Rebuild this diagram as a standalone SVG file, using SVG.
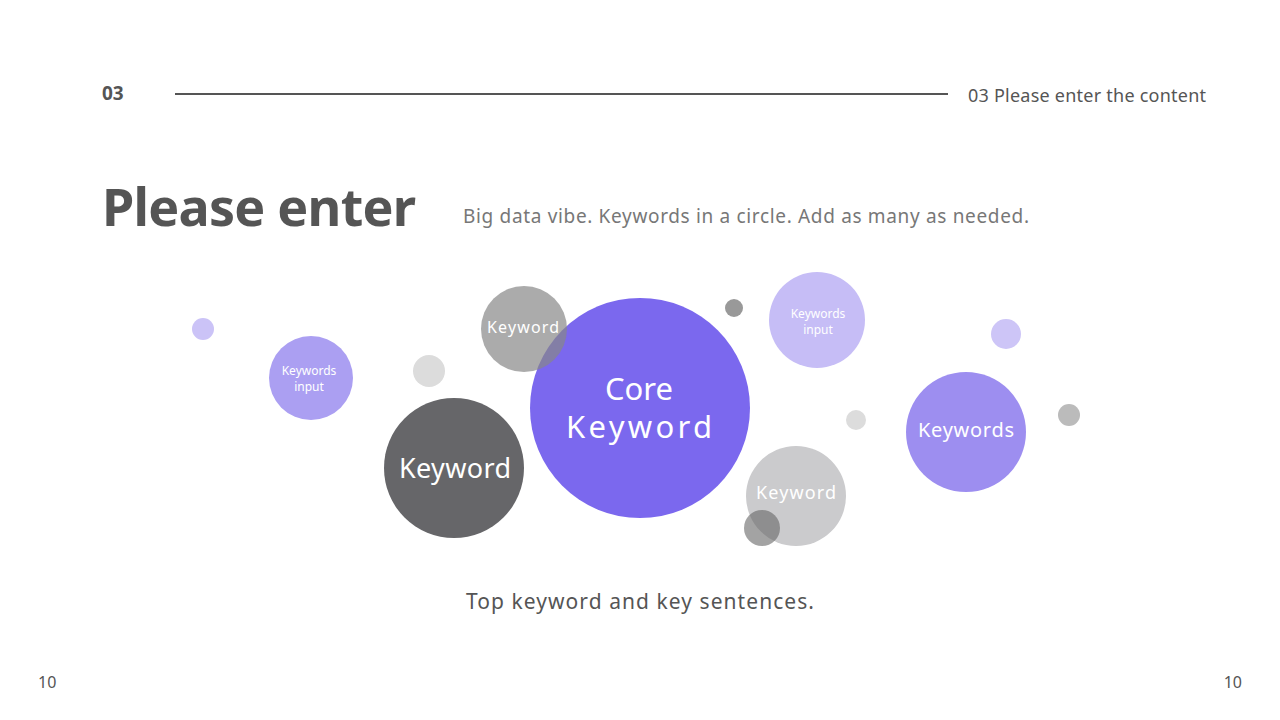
<svg xmlns="http://www.w3.org/2000/svg" width="1280" height="720" viewBox="0 0 1280 720">
<style>
text{font-family:"Noto Sans","Liberation Sans",sans-serif}
.w{fill:#fff;text-anchor:middle}
.g{fill:#555}
</style>
<rect width="1280" height="720" fill="#fff"/>
<g id="header">
<text x="102" y="100" font-size="19" font-weight="bold" class="g">03</text>
<line x1="175" y1="94" x2="948" y2="94" stroke="#555" stroke-width="2"/>
<text x="1206" y="102" font-size="18" text-anchor="end" class="g" textLength="238">03 Please enter the content</text>
<text x="102" y="226" font-size="52" font-weight="bold" class="g" textLength="314">Please enter</text>
<text x="463" y="223" font-size="19" fill="#777" textLength="566">Big data vibe. Keywords in a circle. Add as many as needed.</text>
</g>
<g id="dots">
<circle cx="203" cy="329" r="11" fill="#cbc3f7"/>
<circle cx="429" cy="371" r="16" fill="#dcdcdc"/>
<circle cx="734" cy="308" r="9" fill="#999"/>
<circle cx="856" cy="420" r="10" fill="#dcdcdc"/>
<circle cx="1006" cy="334" r="15" fill="#cdc5f7"/>
<circle cx="1069" cy="415" r="11" fill="#bbb"/>
</g>
<g id="node-input-left"><circle cx="311" cy="378" r="42" fill="#ab9ff2"/>
<text x="309" y="375" font-size="12" class="w">Keywords</text><text x="309" y="391" font-size="12" class="w">input</text></g>
<g id="node-keyword-dark"><circle cx="454" cy="468" r="70" fill="#666669"/>
<text x="455" y="478" font-size="27" class="w" textLength="112">Keyword</text></g>
<g id="node-core"><circle cx="640" cy="408" r="110" fill="#7b68ee"/>
<text x="639" y="400" font-size="31" class="w">Core</text><text x="639" y="438" font-size="31" class="w" textLength="146">Keyword</text></g>
<g id="node-keyword-top"><circle cx="524" cy="329" r="43" fill="#888" fill-opacity="0.7"/>
<text x="523" y="333" font-size="16" class="w" textLength="72">Keyword</text></g>
<g id="node-input-right"><circle cx="817" cy="320" r="48" fill="#c6bdf6"/>
<text x="818" y="318" font-size="12" class="w">Keywords</text><text x="818" y="334" font-size="12" class="w">input</text></g>
<g id="node-keyword-light"><circle cx="796" cy="496" r="50" fill="#cbcbcd"/>
<text x="796" y="499" font-size="18" class="w" textLength="80">Keyword</text></g>
<g id="dot-overlap"><circle cx="762" cy="528" r="18" fill="#666" fill-opacity="0.6"/></g>
<g id="node-keywords"><circle cx="966" cy="432" r="60" fill="#9d8ef0"/>
<text x="966" y="437" font-size="20" class="w" textLength="96">Keywords</text></g>
<g id="footer">
<text x="640" y="609" font-size="21" text-anchor="middle" class="g" textLength="348">Top keyword and key sentences.</text>
<text x="38" y="688" font-size="16" class="g">10</text>
<text x="1242" y="688" font-size="16" text-anchor="end" class="g">10</text>
</g>
<g id="connectors"/>
</svg>
